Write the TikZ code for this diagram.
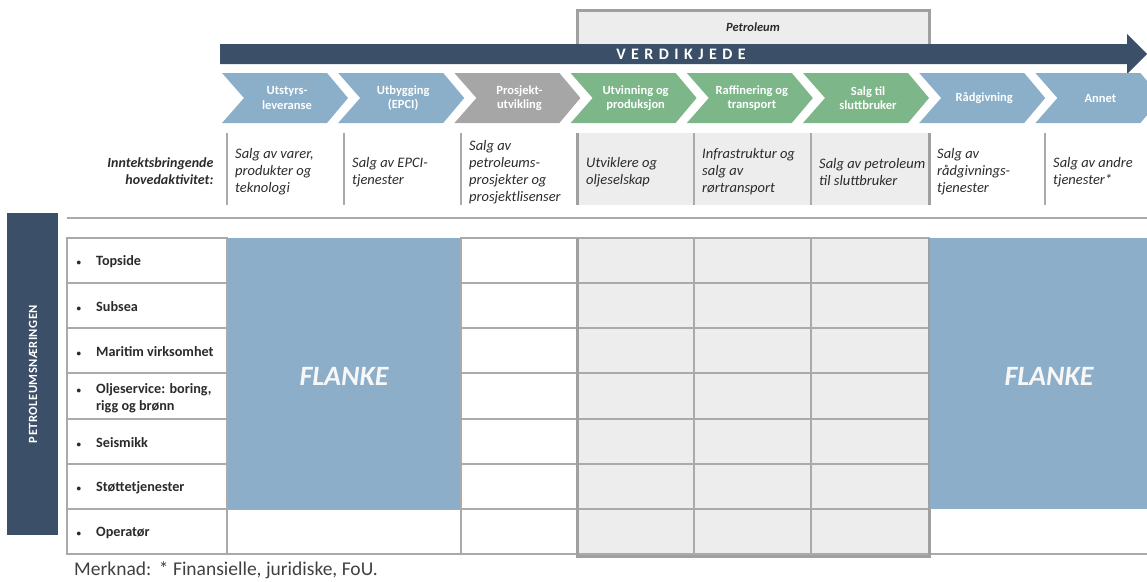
\documentclass[tikz,border=0pt]{standalone}
\usepackage{fontspec}
\setmainfont{Carlito}
\definecolor{navy}{HTML}{3B5068}
\definecolor{cblue}{HTML}{8BAEC9}
\definecolor{cgreen}{HTML}{7DB688}
\definecolor{cgray}{HTML}{A6A6A6}
\definecolor{lgray}{HTML}{EDEDED}
\definecolor{gline}{HTML}{AAAAAA}
\definecolor{frame}{HTML}{A0A0A0}
\definecolor{flank}{HTML}{8CAEC8}
\definecolor{txt}{HTML}{2B2B2B}
\begin{document}
\begin{tikzpicture}[x=1pt,y=-1pt,
  chevtext/.style={text=white,font=\fontsize{12.5}{14.5}\selectfont\bfseries,align=center},
  acttext/.style={anchor=west,align=left,font=\fontsize{14.5}{17}\selectfont\itshape,text=txt,inner sep=0pt},
  rowtext/.style={anchor=west,align=left,font=\fontsize{14.2}{17.5}\selectfont\bfseries,text=txt,inner sep=0pt},
  gridline/.style={draw=gline,line width=1.5pt},
  frameline/.style={draw=frame,line width=3pt},
  flanketext/.style={text=white!94!gray,font=\fontsize{28}{32}\selectfont\bfseries\itshape}]
\useasboundingbox (0,0) rectangle (1147,581);

% Petroleum header box
\filldraw[fill=lgray,frameline] (577,10) rectangle (929,50);
\node[font=\fontsize{12.5}{14}\selectfont\bfseries\itshape,text=txt] (pet) at (753,27) {Petroleum};

% value chain arrow
\fill[navy] (220,44) -- (1127,44) -- (1127,34) -- (1147,54) -- (1127,74) -- (1127,64) -- (220,64) -- cycle;
\node[text=white,font=\fontsize{16}{18}\selectfont\bfseries\addfontfeature{LetterSpace=34}] (vk) at (681,54) {VERDIKJEDE};

% chevrons
\foreach \i/\c/\t in {0/cblue/{Utstyrs-\\leveranse},1/cblue/{Utbygging\\(EPCI)},2/cgray/{Prosjekt-\\utvikling},3/cgreen/{Utvinning og\\produksjon},4/cgreen/{Raffinering og\\transport},5/cgreen/{Salg til\\sluttbruker},6/cblue/{Rådgivning},7/cblue/{Annet}}{
  \pgfmathsetmacro\xx{222+116.2*\i}
  \fill[\c] (\xx,73) -- ++(105,0) -- ++(21,25) -- ++(-21,25) -- ++(-105,0) -- ++(22,-25) -- cycle;
  \node[chevtext] (ch\i) at (\xx+65,98) {\t};
}

% activity row
\fill[lgray] (577,133) rectangle (929,205);
\foreach \x in {227,344,461,694,811,1045}{\draw[gridline] (\x,133) -- (\x,205);}
\foreach \x in {577,929}{\draw[frameline] (\x,133) -- (\x,205);}
\node[anchor=east,align=right,font=\fontsize{14}{17}\selectfont\bfseries\itshape,text=txt] (ih) at (217,171) {Inntektsbringende\\hovedaktivitet:};
\node[acttext] (a1) at (235,172) {Salg av varer,\\produkter og\\teknologi};
\node[acttext] (a2) at (352,172) {Salg av EPCI-\\tjenester};
\node[acttext] (a3) at (469,172) {Salg av\\petroleums-\\prosjekter og\\prosjektlisenser};
\node[acttext] (a4) at (586,172) {Utviklere og\\oljeselskap};
\node[acttext] (a5) at (702,172) {Infrastruktur og\\salg av\\rørtransport};
\node[acttext] (a6) at (819,172) {Salg av petroleum\\til sluttbruker};
\node[acttext] (a7) at (937,172) {Salg av\\rådgivnings-\\tjenester};
\node[acttext] (a8) at (1053,172) {Salg av andre\\tjenester*};

% separator
\draw[gridline] (67,218) -- (1147,218);

% left vertical label
\fill[navy] (7,213) rectangle (58,535);
\node[rotate=90,text=white,font=\fontsize{12.5}{14}\selectfont\bfseries\addfontfeature{LetterSpace=4}] (pn) at (33,374) {PETROLEUMSNÆRINGEN};

% grid
\foreach \ya/\yb in {238/283,283/328,328/373,373/419,419/464,464/509,509/554}{
  \draw[gridline,fill=white] (67,\ya) rectangle (227,\yb);
  \draw[gridline,fill=white] (461,\ya) rectangle (577,\yb);
  \draw[gridline,fill=lgray] (577,\ya) rectangle (694,\yb);
  \draw[gridline,fill=lgray] (694,\ya) rectangle (811,\yb);
  \draw[gridline,fill=lgray] (811,\ya) rectangle (929,\yb);
}
\draw[gridline] (227,509) rectangle (461,554);
\draw[gridline] (929,554) -- (1147,554);
\draw[frameline] (577,238) -- (577,556) -- (929,556) -- (929,238);

% flanks
\fill[flank] (228,238) rectangle (460,509);
\fill[flank] (930,238) rectangle (1147,509);
\node[flanketext] (f1) at (344,376) {FLANKE};
\node[flanketext] (f2) at (1049,376) {FLANKE};

% row labels
\foreach \y/\t/\n in {262/Topside/r1,307/Subsea/r2,352/Maritim virksomhet/r3,398/{Oljeservice: boring,\\rigg og brønn}/r4,443/Seismikk/r5,488/Støttetjenester/r6,533/Operatør/r7}{
  \node[rowtext] (\n) at (96,\y) {\llap{{\fontsize{9}{9}\selectfont\textbullet}\hspace{15pt}}\t};
}

% footnote
\node[anchor=west,font=\fontsize{19.5}{22}\selectfont,text=txt!90!white,inner sep=0pt] (note) at (74,570) {Merknad:\ \,* Finansielle, juridiske, FoU.};
\end{tikzpicture}
\end{document}
